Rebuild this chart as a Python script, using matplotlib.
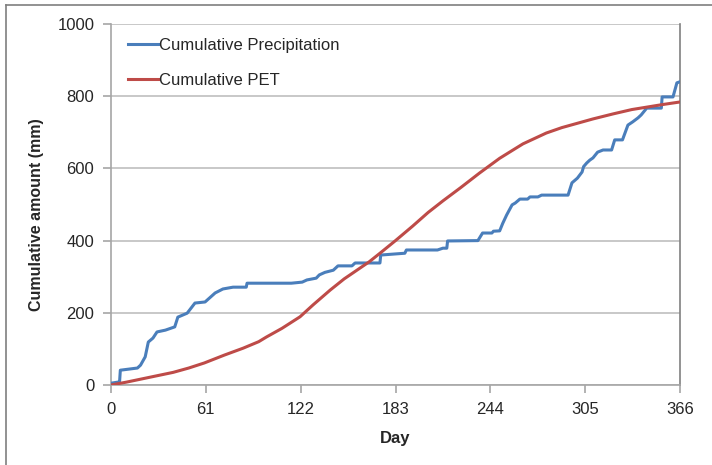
import matplotlib
matplotlib.use("Agg")
import matplotlib.pyplot as plt
from matplotlib.lines import Line2D

# ---- data ----
precip_day = [0, 4.5, 5.5, 6, 17, 19, 22, 24, 27, 29.6, 35, 41, 43, 49, 54, 60.5, 67, 72,
              78.5, 87, 87.5, 116, 123, 126, 132, 134, 137.6, 143, 146, 155, 157, 173,
              173.5, 189, 190, 210, 213.5, 216, 216.5, 236, 239, 245, 246, 250, 252,
              254.5, 258, 260, 263, 268, 269.5, 274.6, 277, 294, 296.5, 300, 303, 304,
              306, 308, 310, 313, 316.5, 322, 324, 329, 332.5, 335.6, 339, 341, 344.6,
              354, 354.5, 361.5, 364, 366]
precip_val = [5, 8, 8, 41, 47, 55, 78, 119, 130, 147, 152, 161, 188, 199, 227, 230, 255, 266,
              271, 271, 282, 282, 285, 291, 296, 305, 312, 318, 330, 330, 338, 338,
              360, 365, 374, 374, 379, 379, 399, 400, 421, 421, 426, 427, 448,
              471, 499, 504, 515, 515, 521, 521, 526, 526, 560, 573, 590, 605,
              615, 623, 629, 645, 651, 651, 679, 679, 720, 729, 740, 748, 767,
              767, 798, 798, 837, 840]

pet_day = [0, 10, 20, 30, 40, 50, 60, 73, 85, 95, 100, 110, 121.6, 130, 141, 150, 166,
           173, 183, 194, 204, 213.5, 225, 237, 250, 258.6, 265, 280, 290, 300, 310, 323,
           335, 345, 355, 366]
pet_val = [0, 8, 17, 26, 35, 47, 61, 83, 102, 120, 133, 157, 189, 222, 263, 294, 341,
           365, 400, 440, 478, 510, 547, 587, 628, 651, 668, 698, 713, 725, 737, 751,
           763, 770, 777, 784]

x_ticks = [0, 61, 122, 183, 244, 305, 366]
y_ticks = [0, 200, 400, 600, 800, 1000]
series_labels = ["Cumulative Precipitation", "Cumulative PET"]

# ---- style ----
plt.rcParams['font.family'] = ['Liberation Sans', 'DejaVu Sans']
blue = '#4A7EBB'
red = '#BE4B48'
txt = '#262626'

W, H = 712, 465
fig = plt.figure(figsize=(W / 100, H / 100), dpi=100)
ax = fig.add_axes([111 / W, 1 - 385 / H, (680 - 111) / W, (385 - 24) / H])

ax.plot(precip_day, precip_val, color=blue, lw=2.2, label=series_labels[0],
        solid_joinstyle='round', zorder=3)
ax.plot(pet_day, pet_val, color=red, lw=2.2, label=series_labels[1],
        solid_joinstyle='round', zorder=3)

ax.set_xlim(0, 366)
ax.set_ylim(0, 1000)
ax.set_xticks(x_ticks)
ax.set_yticks(y_ticks)
ax.yaxis.grid(True, color='#BFBFBF', lw=1.2)
ax.set_axisbelow(True)

ax.spines['top'].set_visible(False)
for s in ['left', 'bottom']:
    ax.spines[s].set_color('#A6A6A6')
    ax.spines[s].set_linewidth(1.2)
ax.spines['right'].set_color('#808080')
ax.spines['right'].set_linewidth(1.2)

ax.tick_params(axis='both', direction='out', length=6, width=1.2, color='#A6A6A6',
               labelsize=12, labelcolor=txt, pad=6)

ax.set_xlabel("Day", fontsize=12, fontweight='bold', color=txt)
ax.xaxis.set_label_coords((395 - 111) / 569, (385 - 438) / 361)
ax.xaxis.label.set_va('center')
ax.set_ylabel("Cumulative amount (mm)", fontsize=11.5, fontweight='bold', color=txt)
ax.yaxis.set_label_coords((37 - 111) / 569, (385 - 215) / 361)
ax.yaxis.label.set_va('center')

leg = ax.legend(loc='upper left', bbox_to_anchor=(17 / 569, (385 - 38) / 361),
                frameon=False, fontsize=12, handlelength=1.8, handletextpad=0.05,
                labelspacing=1.2, borderpad=0, borderaxespad=0)
for t in leg.get_texts():
    t.set_color(txt)

# outer chart border (left and top edges visible)
fig.add_artist(Line2D([6 / W, 6 / W], [0, 1 - 5 / H], transform=fig.transFigure,
                      color='#7F7F7F', lw=1.2))
fig.add_artist(Line2D([6 / W, 1], [1 - 5 / H, 1 - 5 / H], transform=fig.transFigure,
                      color='#7F7F7F', lw=1.2))

fig.savefig("out.png", dpi=100)
